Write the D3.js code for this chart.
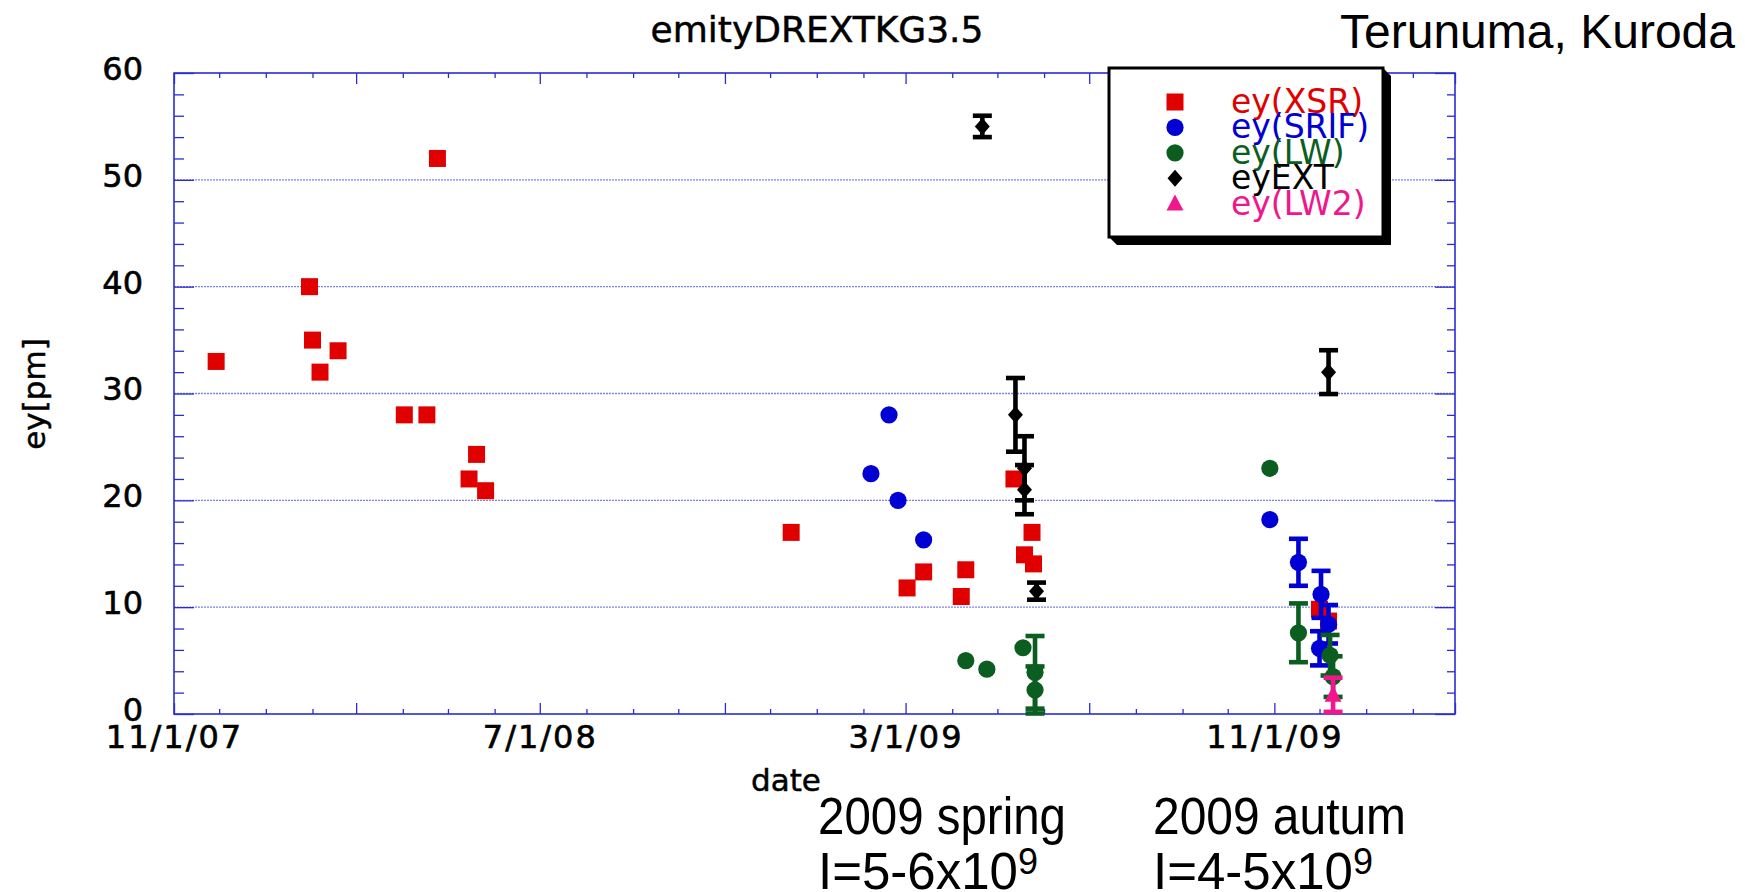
<!DOCTYPE html>
<html><head><meta charset="utf-8">
<script src="https://cdn.jsdelivr.net/npm/d3@7"></script>
<style>body{margin:0;background:#fff}svg{display:block}</style>
</head><body><svg id="c" width="1745" height="892"></svg>
<script>
// ---------- DATA ----------
const xsrDates  = ["2007-11-29","2008-01-30","2008-02-01","2008-02-06","2008-02-18","2008-04-02","2008-04-17","2008-04-24","2008-05-15","2008-05-20","2008-05-26","2008-12-15","2009-03-02","2009-03-13","2009-04-07","2009-04-10","2009-05-12","2009-05-19","2009-05-24","2009-05-25","2009-12-01","2009-12-07"];
const xsrValues = [33,40,35,32,34,28,28,52,22,24.3,20.9,17,11.8,13.3,11.0,13.5,22,14.9,17,14.05,9.8,8.7];

const srifDates  = ["2009-02-06","2009-02-18","2009-02-24","2009-03-13","2009-10-29","2009-11-17","2009-12-02","2009-12-07","2009-12-01"];
const srifValues = [22.5,28,20,16.3,18.2,14.2,11.2,8.4,6.15];
const srifErrors = [0,0,0,0,0,2.2,2.2,1.8,1.6];

const lwDates  = ["2009-04-10","2009-04-24","2009-05-18","2009-05-26","2009-05-26","2009-10-29","2009-11-17","2009-12-08","2009-12-10"];
const lwValues = [5.0,4.2,6.2,3.9,2.25,23,7.6,5.5,3.5];
const lwErrors = [0,0,0,3.4,2.2,0,2.75,1.9,1.9];

const extDates  = ["2009-04-21","2009-05-13","2009-05-19","2009-05-19","2009-05-27","2009-12-07"];
const extValues = [55,28,23,21,11.5,32];
const extErrors = [1,3.45,3,2.3,0.8,2.05];

const lw2Dates  = ["2009-12-10"];
const lw2Values = [1.8];
const lw2Errors = [1.6];

const yTickLabels = [0,10,20,30,40,50,60];
const xLabelDates = ["2007-11-01","2008-07-01","2009-03-01","2009-11-01"];
const legendLabels = ["ey(XSR)","ey(SRIF)","ey(LW)","eyEXT","ey(LW2)"];

// ---------- SETUP ----------
const parse = d3.timeParse("%Y-%m-%d");
const svg = d3.select("#c");
const L = 174, R = 1455, T = 73, B = 714;
const x = d3.scaleTime().domain([parse("2007-11-01"), parse("2010-03-01")]).range([L, R]);
const y = d3.scaleLinear().domain([0, 60]).range([B, T]);

const FRAME = "#2b2bd6", GRID = "#8080ea";
const C = {xsr:"#e00000", srif:"#0000d4", lw:"#0b5e1f", ext:"#000000", lw2:"#f0168c"};
const tickFont = "'DejaVu Sans', sans-serif";
const helv = "'Liberation Sans', Arial, sans-serif";

// gridlines
svg.append("g").selectAll("line").data([10,20,30,40,50]).join("line")
  .attr("x1", L).attr("x2", R).attr("y1", d => y(d)).attr("y2", d => y(d))
  .attr("stroke", GRID).attr("stroke-width", 1.4).attr("stroke-dasharray", "2,1");

// axes
const months = d3.timeMonth.range(parse("2007-11-01"), parse("2010-03-02"));
const isMajorM = d => [10, 2, 6].includes(d.getMonth());
const yTicks = d3.range(0, 61, 2);

const gB = svg.append("g").attr("transform", `translate(0,${B})`)
  .call(d3.axisBottom(x).tickValues(months).tickSize(-5).tickFormat(""));
gB.selectAll(".tick line").attr("y2", d => isMajorM(d) ? -11 : -5);
const gT = svg.append("g").attr("transform", `translate(0,${T})`)
  .call(d3.axisTop(x).tickValues(months).tickSize(-5).tickFormat(""));
gT.selectAll(".tick line").attr("y2", d => isMajorM(d) ? 11 : 5);
const gL = svg.append("g").attr("transform", `translate(${L},0)`)
  .call(d3.axisLeft(y).tickValues(yTicks).tickSize(-10).tickFormat(""));
gL.selectAll(".tick line").attr("x2", d => d % 10 === 0 ? 20 : 10);
const gR = svg.append("g").attr("transform", `translate(${R},0)`)
  .call(d3.axisRight(y).tickValues(yTicks).tickSize(-8).tickFormat(""));
gR.selectAll(".tick line").attr("x2", d => d % 10 === 0 ? -20 : -8);
[gB, gT, gL, gR].forEach(g => {
  g.select(".domain").remove();
  g.selectAll(".tick line").attr("stroke", FRAME).attr("stroke-width", 1.3);
});
svg.append("rect").attr("x", L).attr("y", T).attr("width", R - L).attr("height", B - T)
  .attr("fill", "none").attr("stroke", FRAME).attr("stroke-width", 1.6);

// tick labels
const gBL = svg.append("g").attr("transform", `translate(0,${B})`)
  .call(d3.axisBottom(x).tickValues(xLabelDates.map(parse)).tickSize(0).tickFormat(d3.timeFormat("%-m/%-d/%y")));
gBL.select(".domain").remove();
gBL.selectAll("text").attr("y", 34).attr("dy", 0).attr("font-family", tickFont)
  .attr("font-size", 32).attr("letter-spacing", 2).attr("fill", "#000")
  .attr("stroke", "#000").attr("stroke-width", 0.6);
const gLL = svg.append("g").attr("transform", `translate(${L},0)`)
  .call(d3.axisLeft(y).tickValues(yTickLabels).tickSize(0).tickPadding(31));
gLL.select(".domain").remove();
gLL.selectAll("text").attr("dy", "0.2em").attr("font-family", tickFont)
  .attr("font-size", 32).attr("fill", "#000").attr("stroke", "#000").attr("stroke-width", 0.6);

// ---------- MARKS ----------
function errorBars(dates, vals, errs, color) {
  const g = svg.append("g").attr("stroke", color).attr("stroke-width", 4.6).attr("fill", "none");
  dates.forEach((d, i) => {
    if (!errs[i]) return;
    const cx = x(parse(d)), y1 = y(vals[i] + errs[i]), y0 = y(vals[i] - errs[i]);
    g.append("line").attr("x1", cx).attr("x2", cx).attr("y1", y1).attr("y2", y0);
    g.append("line").attr("x1", cx - 9.5).attr("x2", cx + 9.5).attr("y1", y1).attr("y2", y1);
    g.append("line").attr("x1", cx - 9.5).attr("x2", cx + 9.5).attr("y1", y0).attr("y2", y0);
  });
}
const symSquare = d3.symbol().type(d3.symbolSquare).size(17 * 17)();
const symCircle = d3.symbol().type(d3.symbolCircle).size(Math.PI * 8.6 * 8.6)();
const symDiamond = "M0,-8.5L7.5,0L0,8.5L-7.5,0Z";
const symTri = "M0,-9L8.5,7L-8.5,7Z";

function points(dates, vals, path, color) {
  svg.append("g").selectAll("path").data(dates).join("path")
    .attr("d", path).attr("fill", color)
    .attr("transform", (d, i) => `translate(${x(parse(d))},${y(vals[i])})`);
}

points(xsrDates, xsrValues, symSquare, C.xsr);
errorBars(srifDates, srifValues, srifErrors, C.srif);
points(srifDates, srifValues, symCircle, C.srif);
errorBars(lwDates, lwValues, lwErrors, C.lw);
points(lwDates, lwValues, symCircle, C.lw);
errorBars(extDates, extValues, extErrors, C.ext);
points(extDates, extValues, symDiamond, C.ext);
errorBars(lw2Dates, lw2Values, lw2Errors, C.lw2);
points(lw2Dates, lw2Values, symTri, C.lw2);

// ---------- LEGEND ----------
const lx0 = 1109, ly0 = 68, lx1 = 1383, ly1 = 237, sh = 8;
svg.append("polygon")
  .attr("points", `${lx1},${ly0} ${lx1+sh},${ly0+sh} ${lx1+sh},${ly1+sh} ${lx0+sh},${ly1+sh} ${lx0},${ly1}`)
  .attr("fill", "#000");
svg.append("rect").attr("x", lx0).attr("y", ly0).attr("width", lx1 - lx0).attr("height", ly1 - ly0)
  .attr("fill", "#fff").attr("stroke", "#000").attr("stroke-width", 3);
const legSyms = [symSquare, symCircle, symCircle, symDiamond, symTri];
const legCols = [C.xsr, C.srif, C.lw, C.ext, C.lw2];
legendLabels.forEach((t, i) => {
  const cy = 102 + i * 25.4;
  svg.append("path").attr("d", legSyms[i]).attr("fill", legCols[i])
    .attr("transform", `translate(1175,${cy})`);
  svg.append("text").attr("x", 1231).attr("y", cy + 11).text(t)
    .attr("font-family", tickFont).attr("font-size", 33).attr("fill", legCols[i]);
});

// ---------- TEXT ----------
svg.append("text").attr("x", 817).attr("y", 42).attr("text-anchor", "middle")
  .attr("font-family", tickFont).attr("font-size", 36)
  .attr("stroke", "#000").attr("stroke-width", 0.5).text("emityDREXTKG3.5");
svg.append("text").attr("x", 1340).attr("y", 48).attr("textLength", 395).attr("lengthAdjust", "spacingAndGlyphs")
  .attr("font-family", helv).attr("font-size", 48).text("Terunuma, Kuroda");
svg.append("text").attr("transform", "translate(34,394) rotate(-90)").attr("text-anchor", "middle")
  .attr("dominant-baseline", "central").attr("font-family", tickFont).attr("font-size", 31)
  .attr("stroke", "#000").attr("stroke-width", 0.5).text("ey[pm]");
svg.append("text").attr("x", 751).attr("y", 791).attr("font-family", tickFont).attr("font-size", 31)
  .attr("stroke", "#000").attr("stroke-width", 0.5).text("date");

const ann = svg.append("g").attr("font-family", helv).attr("font-size", 51);
ann.append("text").attr("x", 818).attr("y", 834).attr("textLength", 248).attr("lengthAdjust", "spacingAndGlyphs").text("2009 spring");
ann.append("text").attr("x", 1153).attr("y", 834).attr("textLength", 253).attr("lengthAdjust", "spacingAndGlyphs").text("2009 autum");
const t1 = ann.append("text").attr("x", 818).attr("y", 889);
t1.append("tspan").text("I=5-6x10");
t1.append("tspan").attr("font-size", 36).attr("dy", -15).text("9");
const t2 = ann.append("text").attr("x", 1153).attr("y", 889);
t2.append("tspan").text("I=4-5x10");
t2.append("tspan").attr("font-size", 36).attr("dy", -15).text("9");
</script>
</body></html>
